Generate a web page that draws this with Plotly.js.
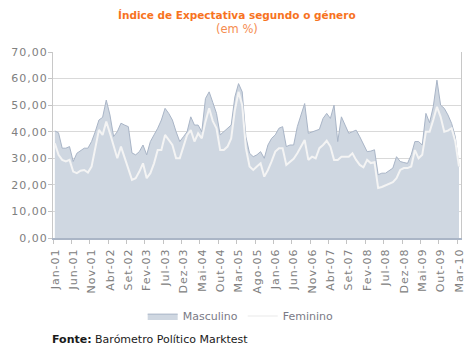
<!DOCTYPE html>
<html><head><meta charset="utf-8">
<script src="https://cdn.plot.ly/plotly-3.0.1.min.js"></script>
<style>
html,body{margin:0;padding:0;background:#fff;}
#chart .xtick text, #chart .ytick text{letter-spacing:1px;}
</style>
</head><body>
<div id="chart" style="width:473px;height:351px;"></div>
<script>
var tickLabels = ["Jan-01","Jun-01","Nov-01","Abr-02","Set-02","Fev-03","Jul-03","Dez-03","Mai-04","Out-04","Mar-05","Ago-05","Jan-06","Jun-06","Nov-06","Abr-07","Set-07","Fev-08","Jul-08","Dez-08","Mai-09","Out-09","Mar-10"];
var masculino = [40.3,39.6,33.8,33.8,34.4,28.8,31.9,32.8,33.8,33.8,36.3,40,44.4,45.4,51.9,46.3,38.2,40,43.2,42.5,41.9,32,31.3,32.5,35,31.3,36.3,38.8,41.3,44.4,48.8,46.9,44.4,40,36.3,38.1,40,45.6,42.5,42.5,40,52.5,55,51,46.9,38.8,40,41.3,42.5,53.1,58.1,55,38.1,31.9,30.6,31.3,32.5,30,35,37.5,38.8,41.3,41.9,34.4,35,35,41.9,46.3,50.6,39.4,40,40.4,40.9,45,46.9,45,50,36.3,45.6,42.5,39.4,40,40.6,38.1,35,32.5,32.7,33.2,23.8,24.4,24.4,25.4,26.3,30.6,28.8,28.4,28.1,31.3,36.3,36.3,35,46.9,43.4,49.4,59.4,50,48.8,46.3,43.1,38.1,26.9];
var feminino = [35.6,31.3,29.4,28.8,29.4,25,24.4,25.3,25.6,24.6,26.9,34.4,40.7,38.8,43.8,39.4,35,30,34.4,30,25.6,21.9,22.5,25,28.1,22.5,24.4,28.1,33.1,33.1,38.8,36.9,35,30,30,34.4,38.8,40.6,36.3,39.4,37.5,43.8,48.8,44,41.3,33.1,33.1,34.4,37.5,48.1,55,50,33.8,26.9,25.6,26.9,28.1,23.1,25.6,28.8,32.5,33.8,33.8,27.5,28.8,29.8,31.9,34.4,36.9,29.4,30.6,30,33.8,35,36.6,34.4,29.4,29.4,30.6,30.6,30.6,31.9,29.4,27.5,26.6,29.4,28.2,28.5,18.8,19.2,19.8,20.4,21,22.5,25.6,26.3,26.3,26.9,33.1,30,31.3,40,40,44.4,49.4,45.6,40,40.4,41.3,36.3,26.9];

var idx = masculino.map(function(_, i){ return i; });
var tickVals = tickLabels.map(function(_, k){ return k*5 - 0.5; });

var traces = [
  {x: idx, y: masculino, name: 'Masculino', type: 'scatter', mode: 'lines',
   fill: 'tozeroy', fillcolor: '#cfd7e1', line: {color: '#a9b5c7', width: 1}, hoverinfo: 'skip'},
  {x: idx, y: feminino, name: 'Feminino', type: 'scatter', mode: 'lines',
   line: {color: '#f4f4f4', width: 2}, hoverinfo: 'skip'}
];

var layout = {
  width: 473, height: 351,
  margin: {l: 53, r: 12, t: 52, b: 113},
  paper_bgcolor: '#fff', plot_bgcolor: '#fff',
  separators: ',.',
  font: {family: 'DejaVu Sans', size: 11, color: '#7f7f7f'},
  showlegend: true,
  xaxis: {
    range: [-0.5, 110.55], tickvals: tickVals, ticktext: tickLabels,
    tickangle: -90, ticks: 'outside', ticklen: 4, tickcolor: '#c4c4c4',
    ticklabelshift: 2,
    showgrid: false, zeroline: false, showline: true, linecolor: '#aab5c6', linewidth: 2,
    tickfont: {family: 'DejaVu Sans', size: 11, color: '#808080'}, fixedrange: true
  },
  yaxis: {
    range: [0, 70], dtick: 10, tick0: 0, tickformat: '.2f',
    ticks: 'outside', ticklen: 4, tickcolor: '#c4c4c4', ticklabelstandoff: -2,
    showgrid: true, gridcolor: '#d9d9d9', gridwidth: 1, zeroline: false,
    showline: true, linecolor: '#c8c8c8', linewidth: 1, mirror: true,
    tickfont: {family: 'DejaVu Sans', size: 11, color: '#808080'}, fixedrange: true
  },
  legend: {
    orientation: 'h', x: 0.46, xanchor: 'center', y: -0.42, yanchor: 'middle',
    font: {family: 'DejaVu Sans', size: 11, color: '#7a7a86'}, bgcolor: 'rgba(0,0,0,0)'
  },
  annotations: [
    {text: '<b>Índice de Expectativa segundo o género</b>',
     xref: 'paper', yref: 'paper', x: 0.452, y: 1.199, xanchor: 'center', yanchor: 'middle',
     showarrow: false, font: {family: 'DejaVu Sans', size: 10.5, color: '#f7731e'}},
    {text: '(em %)',
     xref: 'paper', yref: 'paper', x: 0.452, y: 1.122, xanchor: 'center', yanchor: 'middle',
     showarrow: false, font: {family: 'DejaVu Sans', size: 11.5, color: '#f58c50'}},
    {text: '<b>Fonte:</b> Barómetro Político Marktest',
     xref: 'paper', yref: 'paper', x: -0.008, y: -0.548, xanchor: 'left', yanchor: 'middle',
     showarrow: false, font: {family: 'DejaVu Sans', size: 11, color: '#1a1a1a'}}
  ]
};

Plotly.newPlot('chart', traces, layout, {displayModeBar: false, staticPlot: true});
</script>
</body></html>
